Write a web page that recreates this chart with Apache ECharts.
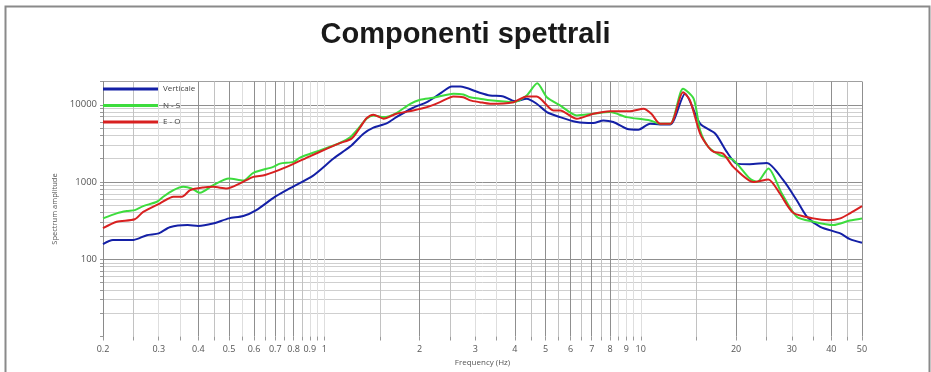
<!DOCTYPE html>
<html>
<head>
<meta charset="utf-8">
<script src="https://cdn.jsdelivr.net/npm/echarts@6/dist/echarts.min.js"></script>
<style>html,body{margin:0;padding:0;background:#fff}#c{width:931px;height:372px}</style>
</head>
<body>
<div id="c"></div>
<script>
const titleText = 'Componenti spettrali';
const seriesNames = ['Verticale', 'N - S', 'E - O'];
const xAxisName = 'Frequency (Hz)';
const yAxisName = 'Spectrum amplitude';

const xTickLabels = [0.2,0.3,0.4,0.5,0.6,0.7,0.8,0.9,1,2,3,4,5,6,7,8,9,10,20,30,40,50];
const xGridValues = [0.2,0.25,0.3,0.35,0.4,0.45,0.5,0.55,0.6,0.65,0.7,0.75,0.8,0.85,0.9,0.95,1,
  1.5,2,2.5,3,3.5,4,4.5,5,5.5,6,6.5,7,7.5,8,8.5,9,9.5,10,15,20,25,30,35,40,45,50];
const yTickLabels = [100,1000,10000];
const yGridValues = [10,20,30,40,50,60,70,80,90,100,200,300,400,500,600,700,800,900,
  1000,2000,3000,4000,5000,6000,7000,8000,9000,10000,20000];

const freqV = [0.2,0.215,0.25,0.275,0.3,0.325,0.37,0.4,0.445,0.5,0.555,0.61,0.7,0.8,0.92,1.07,1.21,1.33,1.43,1.58,1.69,1.91,2.11,2.32,2.53,2.69,3.07,3.34,3.68,4.01,4.36,4.69,5.05,5.56,6.28,7.08,7.62,8.19,9.03,9.83,10.7,11.5,12.4,13.8,15.4,17.2,18.7,20.1,22.1,25.0,28.2,31.1,33.5,36.9,42.7,45.8,50];
const ampV  = [157,177,178,205,216,260,277,270,290,338,363,433,645,880,1200,2010,2900,4220,5050,5790,6920,9150,10800,13900,17200,17200,14500,13200,12800,11100,11950,10300,8030,6920,5970,5790,6270,5970,4900,4760,5690,5570,5570,13900,5690,4220,2450,1730,1700,1760,1055,580,355,263,216,182,164];

const freqNS = [0.2,0.221,0.238,0.252,0.268,0.296,0.31,0.334,0.359,0.381,0.405,0.446,0.5,0.555,0.597,0.69,0.725,0.8,0.838,0.97,1.12,1.21,1.28,1.36,1.43,1.54,1.69,1.87,2.01,2.21,2.56,2.75,2.89,3.1,3.34,3.96,4.36,4.71,5.05,5.56,6.28,7.08,8.0,9.03,10.7,11.5,12.4,13.6,14.7,15.4,16.35,17.8,19.6,22.1,23.3,25.3,27.9,31.1,35.1,40.6,45.8,50];
const ampNS  = [338,393,420,433,487,555,645,785,865,825,725,910,1110,1045,1315,1570,1730,1820,2070,2570,3200,3820,4900,6600,7280,6920,7790,10300,11600,12300,13900,13600,12500,12000,11400,10800,13200,19000,12500,9800,7280,7650,8030,6920,6270,5690,5690,16100,11950,4660,2840,2220,1930,1110,1000,1500,710,355,306,277,317,338];

const freqEO = [0.2,0.221,0.252,0.268,0.303,0.334,0.355,0.377,0.415,0.446,0.492,0.542,0.597,0.65,0.761,0.9,1.02,1.12,1.22,1.3,1.36,1.43,1.54,1.69,1.91,2.11,2.32,2.56,2.75,2.89,3.1,3.34,3.96,4.36,4.69,5.3,5.56,6.28,7.08,8.0,9.22,10.2,10.8,11.5,12.4,13.6,14.3,15.4,16.35,17.0,18.2,19.6,22.7,25.3,27.5,30.3,35.1,39.3,42.7,45.8,50];
const ampEO  = [252,306,330,410,530,645,645,785,850,865,825,960,1165,1230,1570,2150,2700,3180,3640,5140,6700,7440,6600,7650,8440,9310,10800,12800,12500,11400,10800,10300,10800,12800,12800,8440,8440,6600,7650,8270,8270,8870,7650,5690,5690,14500,11400,4220,2840,2450,2330,1570,1000,1080,710,400,338,320,338,393,487];

const darkX = [0.4,0.5,0.6,0.7,0.8,2,4,5,6,7,8,20,40,50];
const lightX = [0.3,0.35,0.55,0.9,0.95,1,3,3.5,8.5,9,9.5,10,30,35];

function xColor(v){
  if (darkX.indexOf(v) >= 0) return '#8f8f8f';
  if (lightX.indexOf(v) >= 0) return '#dedede';
  return '#c2c2c2';
}
function yColor(v, i){
  if (i === 0) return 'rgba(0,0,0,0)';
  if (v === 100 || v === 1000 || v === 10000) return '#8f8f8f';
  if (v === 20000) return '#a0a0a0';
  return '#cfcfcf';
}

const chart = echarts.init(document.getElementById('c'), null, {renderer: 'canvas'});
const font = 'Open Sans';
chart.setOption({
  animation: false,
  backgroundColor: '#fff',
  title: {
    text: titleText, left: 'center', top: 15,
    textStyle: {fontFamily: 'Liberation Sans', fontWeight: 'bold', fontSize: 29, color: '#1a1a1a'}
  },
  graphic: [{
    type: 'rect', left: 3, top: 4, shape: {width: 924, height: 372},
    style: {fill: 'none', stroke: '#8a8a8a', lineWidth: 2}, silent: true
  }],
  legend: {
    data: seriesNames.map(n => ({name: n, icon: 'rect'})), orient: 'vertical', left: 98, top: 80,
    itemWidth: 55, itemHeight: 3, itemGap: 8.5,
    textStyle: {fontFamily: font, fontSize: 8, color: '#444'}
  },
  grid: {left: 103, right: 69, top: 81.5, bottom: 35.5, containLabel: false},
  xAxis: {
    type: 'log', min: 0.2, max: 50, logBase: 10,
    name: xAxisName, nameLocation: 'middle', nameGap: 21,
    nameTextStyle: {fontFamily: font, fontSize: 8, color: '#555'},
    axisLine: {show: false},
    axisTick: {show: true, length: 4, customValues: xGridValues, lineStyle: {color: '#999'}},
    axisLabel: {customValues: xTickLabels, fontFamily: font, fontSize: 9, color: '#555', margin: 8,
      formatter: v => String(v)},
    splitLine: {show: true, lineStyle: {width: 1, color: xGridValues.map(xColor)}},
    minorTick: {show: false}, minorSplitLine: {show: false}
  },
  yAxis: {
    type: 'log', min: 10, max: 20000, logBase: 10,
    name: yAxisName, nameLocation: 'middle', nameGap: 34,
    nameTextStyle: {fontFamily: font, fontSize: 7.5, color: '#555'},
    axisLine: {show: true, lineStyle: {color: '#8a8a8a', width: 1}},
    axisTick: {show: true, length: 3, customValues: yGridValues, lineStyle: {color: '#999'}},
    axisLabel: {customValues: yTickLabels, fontFamily: font, fontSize: 9.5, color: '#555', margin: 6,
      formatter: v => String(v)},
    splitLine: {show: true, lineStyle: {width: 1, color: yGridValues.map(yColor)}}
  },
  series: [
    {name: seriesNames[0], type: 'line', symbol: 'none', smooth: 0.25,
     lineStyle: {width: 2, color: '#1420a6'}, itemStyle: {color: '#1420a6'},
     data: freqV.map((f, i) => [f, ampV[i]])},
    {name: seriesNames[1], type: 'line', symbol: 'none', smooth: 0.25,
     lineStyle: {width: 2, color: '#3ddc3d'}, itemStyle: {color: '#3ddc3d'},
     data: freqNS.map((f, i) => [f, ampNS[i]])},
    {name: seriesNames[2], type: 'line', symbol: 'none', smooth: 0.25,
     lineStyle: {width: 2, color: '#d82020'}, itemStyle: {color: '#d82020'},
     data: freqEO.map((f, i) => [f, ampEO[i]])}
  ]
});
</script>
</body>
</html>
